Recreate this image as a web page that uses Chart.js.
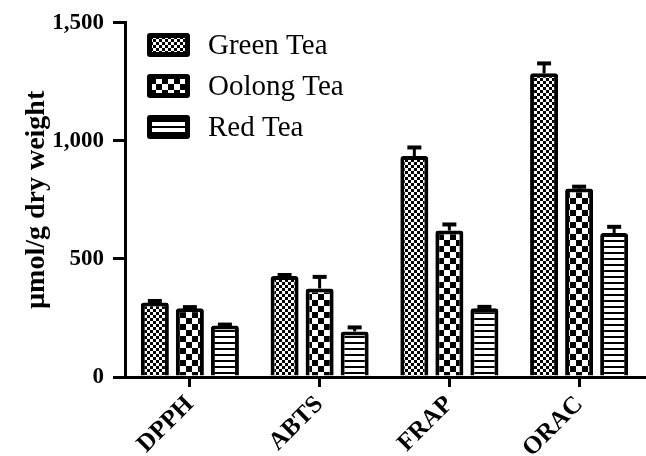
<!DOCTYPE html>
<html>
<head>
<meta charset="utf-8">
<script src="https://cdn.jsdelivr.net/npm/chart.js@4"></script>
<style>
  body { margin: 0; background: #fff; }
</style>
</head>
<body>
<canvas id="teaChart" width="646" height="456"></canvas>
<script>
const categories = ['DPPH', 'ABTS', 'FRAP', 'ORAC'];
const seriesNames = ['Green Tea', 'Oolong Tea', 'Red Tea'];
const greenTea = [316, 428, 936, 1286];
const oolongTea = [291, 375, 620, 798];
const redTea = [218, 193, 291, 610];
const greenErr = [6, 4, 36, 42];
const oolongErr = [5, 49, 26, 8];
const redErr = [4, 17, 6, 26];
const yTicks = [0, 500, 1000, 1500];

// fill patterns like the print figure
function checker(cell) {
  const c = document.createElement('canvas');
  c.width = c.height = cell * 2;
  const g = c.getContext('2d');
  g.fillStyle = '#fff';
  g.fillRect(0, 0, c.width, c.height);
  g.fillStyle = '#000';
  g.fillRect(0, 0, cell, cell);
  g.fillRect(cell, cell, cell, cell);
  return g.createPattern(c, 'repeat');
}
function stripes(period, line) {
  const c = document.createElement('canvas');
  c.width = c.height = period;
  const g = c.getContext('2d');
  g.fillStyle = '#fff';
  g.fillRect(0, 0, period, period);
  g.fillStyle = '#000';
  g.fillRect(0, 0, period, line);
  return g.createPattern(c, 'repeat');
}
const fills = [checker(3), checker(6), stripes(6, 2)];
const errs = [greenErr, oolongErr, redErr];

const errorBars = {
  id: 'errorBars',
  afterDatasetsDraw(chart) {
    const ctx = chart.ctx;
    const y = chart.scales.y;
    ctx.save();
    ctx.strokeStyle = '#000';
    chart.data.datasets.forEach((ds, i) => {
      chart.getDatasetMeta(i).data.forEach((bar, j) => {
        const top = y.getPixelForValue(ds.data[j]);
        const end = y.getPixelForValue(ds.data[j] + errs[i][j]);
        ctx.lineWidth = 3;
        ctx.beginPath();
        ctx.moveTo(bar.x, top);
        ctx.lineTo(bar.x, end);
        ctx.stroke();
        ctx.lineWidth = 4;
        ctx.beginPath();
        ctx.moveTo(bar.x - 7, end);
        ctx.lineTo(bar.x + 7, end);
        ctx.stroke();
      });
    });
    ctx.restore();
  }
};

const boxLegend = {
  id: 'boxLegend',
  afterDraw(chart) {
    const ctx = chart.ctx;
    ctx.save();
    chart.data.datasets.forEach((ds, i) => {
      const bx = 147, by = 33 + i * 41;
      ctx.fillStyle = '#000';
      ctx.beginPath();
      ctx.roundRect(bx, by, 43, 24, 3);
      ctx.fill();
      ctx.fillStyle = '#fff';
      ctx.fillRect(bx + 5, by + 5, 33, 14);
      ctx.fillStyle = ds.backgroundColor;
      ctx.fillRect(bx + 5, by + 5, 33, 14);
      ctx.fillStyle = '#000';
      ctx.font = '29px "Liberation Serif"';
      ctx.textBaseline = 'middle';
      ctx.fillText(ds.label, 208, by + 13);
    });
    ctx.restore();
  }
};

const data = {
  labels: categories,
  datasets: [greenTea, oolongTea, redTea].map((vals, i) => ({
    label: seriesNames[i],
    data: vals,
    backgroundColor: fills[i],
    borderColor: '#000',
    borderWidth: 4,
    borderRadius: 3,
    borderSkipped: 'bottom',
    categoryPercentage: 0.81,
    barPercentage: 0.8
  }))
};

new Chart(document.getElementById('teaChart'), {
  type: 'bar',
  data: data,
  options: {
    responsive: false,
    animation: false,
    layout: { padding: { top: 20, right: 2, left: 0, bottom: 0 } },
    plugins: {
      legend: { display: false },
      tooltip: { enabled: false }
    },
    scales: {
      x: {
        afterFit: s => { s.height = 79; },
        grid: { offset: false, drawOnChartArea: false, color: '#000', lineWidth: 3, tickLength: 10 },
        border: { color: '#000', width: 3 },
        ticks: {
          color: '#000',
          font: { family: '"Liberation Serif"', size: 25, weight: 'bold' },
          minRotation: 45,
          maxRotation: 45,
          padding: 3
        }
      },
      y: {
        min: 0,
        max: 1500,
        afterFit: s => { s.width = 125; },
        afterBuildTicks: s => { s.ticks = yTicks.map(v => ({ value: v })); },
        grid: { drawOnChartArea: false, color: '#000', lineWidth: 3, tickLength: 12 },
        border: { color: '#000', width: 3 },
        ticks: {
          color: '#000',
          font: { family: '"Liberation Serif"', size: 23, weight: 'bold' },
          padding: 9,
          callback: v => v.toLocaleString('en-US')
        },
        title: {
          display: true,
          text: 'µmol/g dry weight',
          color: '#000',
          font: { family: '"Liberation Serif"', size: 28, weight: 'bold' },
          padding: { top: 20, bottom: 0 }
        }
      }
    }
  },
  plugins: [errorBars, boxLegend]
});
</script>
</body>
</html>
